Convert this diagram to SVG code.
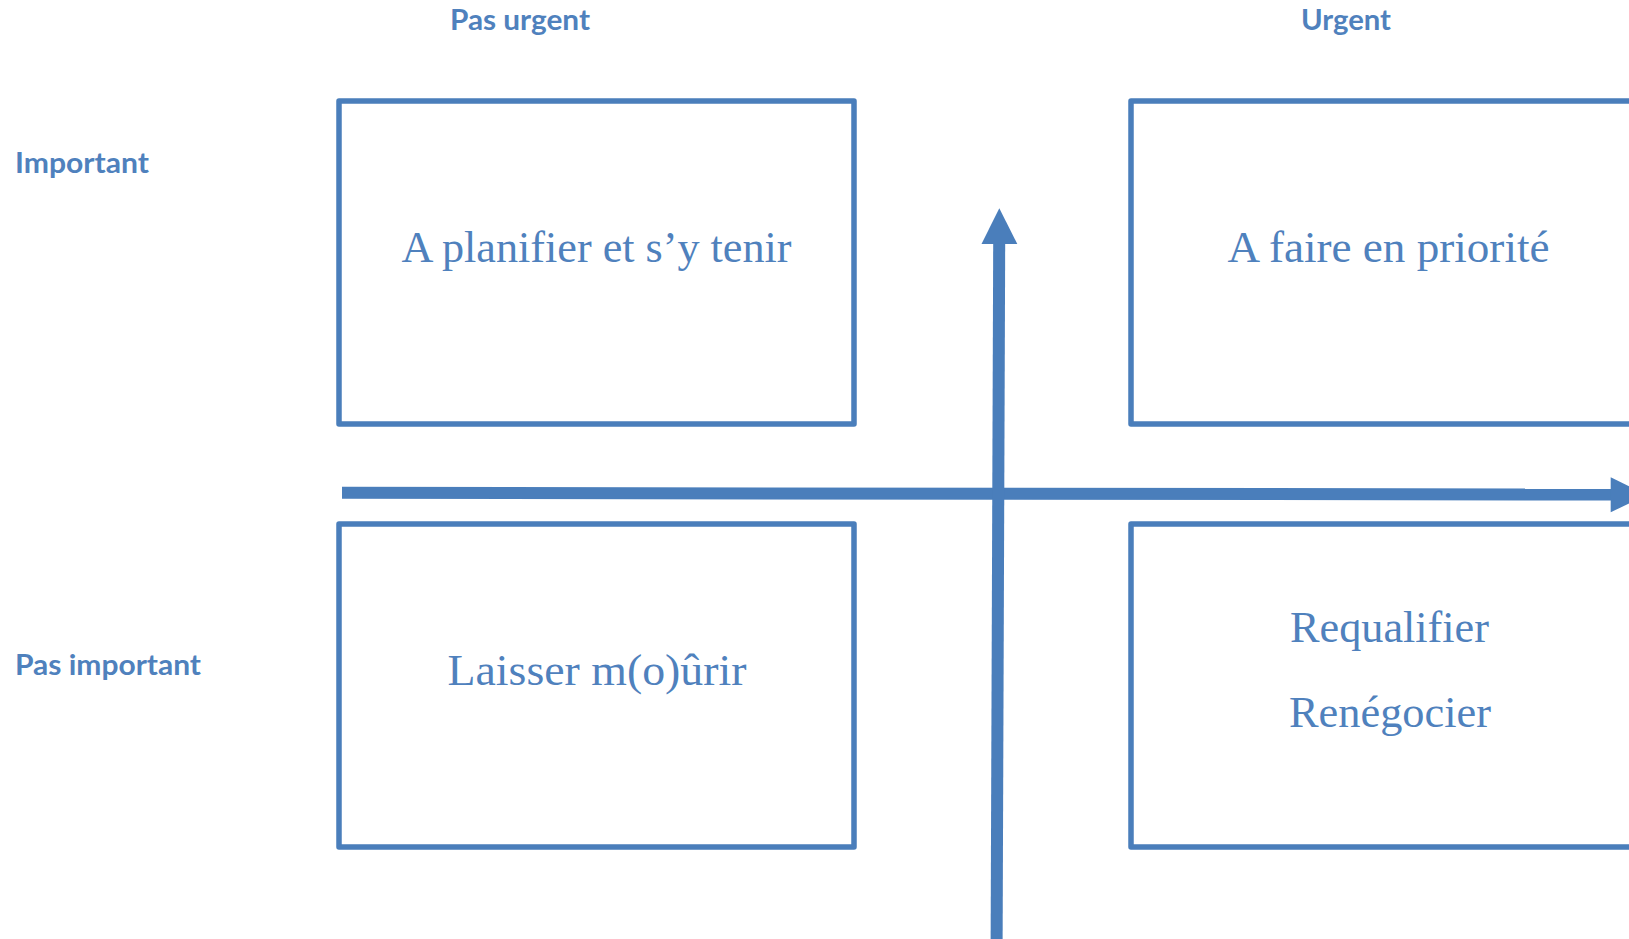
<svg xmlns="http://www.w3.org/2000/svg" width="1629" height="939" viewBox="0 0 1629 939">
  <style>
    .box { fill: #ffffff; stroke: #4A7EBB; stroke-width: 5.5; stroke-linejoin: round; }
    .axis { fill: none; stroke: #4A7EBB; stroke-width: 12; stroke-linecap: butt; }
    .head { fill: #4A7EBB; }
    .hdr { font-family: Lato, "Liberation Sans", sans-serif; font-weight: bold; font-size: 29px; fill: #4F81BD; }
    .lbl { font-family: "Liberation Serif", serif; font-size: 44px; fill: #4F81BD; text-anchor: middle; }
  </style>

  <!-- axis headings -->
  <g id="headings">
    <text class="hdr" x="450" y="30" textLength="140" lengthAdjust="spacingAndGlyphs">Pas urgent</text>
    <text class="hdr" x="1301" y="30" textLength="90" lengthAdjust="spacingAndGlyphs">Urgent</text>
    <text class="hdr" x="15" y="173" textLength="134" lengthAdjust="spacingAndGlyphs">Important</text>
    <text class="hdr" x="15" y="674.5" textLength="186" lengthAdjust="spacingAndGlyphs">Pas important</text>
  </g>

  <!-- quadrants -->
  <g id="plan">
    <rect class="box" x="339" y="101" width="515" height="323"/>
    <text class="lbl" x="596.5" y="262" textLength="390" lengthAdjust="spacingAndGlyphs">A planifier et s’y tenir</text>
  </g>
  <g id="priorite">
    <rect class="box" x="1131" y="101" width="515" height="323"/>
    <text class="lbl" x="1388.5" y="262" textLength="322" lengthAdjust="spacingAndGlyphs">A faire en priorité</text>
  </g>
  <g id="laisser">
    <rect class="box" x="339" y="524" width="515" height="323"/>
    <text class="lbl" x="597" y="685" textLength="299" lengthAdjust="spacingAndGlyphs">Laisser m(o)ûrir</text>
  </g>
  <g id="requalifier">
    <rect class="box" x="1131" y="524" width="515" height="323"/>
    <text class="lbl" x="1389.5" y="642" textLength="199" lengthAdjust="spacingAndGlyphs">Requalifier</text>
    <text class="lbl" x="1390" y="727" textLength="202" lengthAdjust="spacingAndGlyphs">Renégocier</text>
  </g>

  <!-- axes -->
  <g id="connectors">
    <line class="axis" x1="342" y1="492.8" x2="1611" y2="494.6"/>
    <polygon class="head" points="1610.7,477.3 1646.7,494.8 1610.7,512.3"/>
    <line class="axis" x1="996.6" y1="945" x2="999.2" y2="243"/>
    <polygon class="head" points="981.5,244 999.3,208.3 1017.3,244"/>
  </g>
</svg>
